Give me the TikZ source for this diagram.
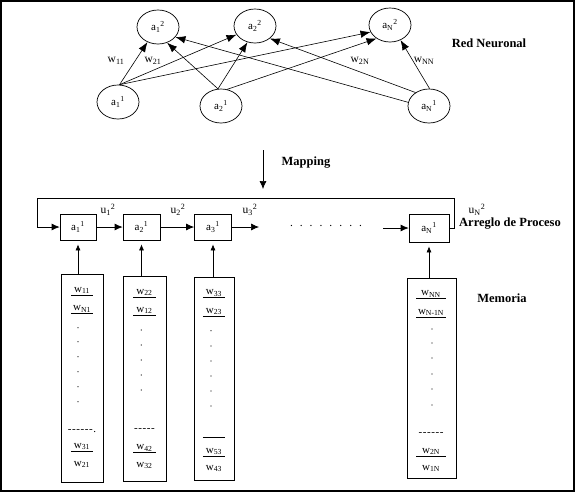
\documentclass[tikz,border=0pt]{standalone}
\usepackage{fontspec}
\setmainfont{Liberation Serif}
\usetikzlibrary{arrows.meta,positioning,shapes.geometric}

\newcommand{\neu}[3]{#1\textsubscript{#2}\textsuperscript{#3}}
\newcommand{\wt}[1]{w\textsubscript{#1}}
\newcommand{\hy}{\mbox{-}\hspace{0.6pt}}

\tikzset{
    neuron/.style={
        ellipse,
        draw,
        line width=0.7pt,
        minimum width=42pt,
        minimum height=34pt,
        inner sep=0pt,
        font=\fontsize{11}{13}\selectfont
    },
    pebox/.style={
        rectangle,
        draw,
        line width=0.7pt,
        minimum width=36pt,
        minimum height=26pt,
        inner sep=0pt,
        font=\fontsize{11}{13}\selectfont
    },
    memcol/.style={rectangle, draw, line width=0.8pt, inner sep=0pt},
    wcell/.style={minimum width=22pt, inner sep=1pt, anchor=south, font=\fontsize{11}{13}\selectfont},
    wlabel/.style={font=\fontsize{11.5}{13}\selectfont},
    tag/.style={font=\fontsize{12.5}{14}\selectfont\bfseries},
    % Arrows
    netArrow/.style={-{Latex[length=10pt,width=7.5pt]}, line width=0.6pt},
    rowArrow/.style={-{Latex[length=8pt,width=7pt]}, line width=0.7pt},
    memArrow/.style={-{Latex[length=6pt,width=5pt]}, line width=0.7pt, shorten >=4pt}
}

\begin{document}
\begin{tikzpicture}[x=1pt, y=-1pt]
\useasboundingbox (0,0) rectangle (576,493);
\draw[line width=1.5pt] (1,1) rectangle (574,491);

% Red neuronal
\node[neuron] (l2a) at (158,27) {\neu{a}{1}{2}};
\node[neuron] (l2b) at (255,26) {\neu{a}{2}{2}};
\node[neuron] (l2n) at (390,25) {\neu{a}{N}{2}};
\node[neuron] (l1a) at (118,102) {\neu{a}{1}{1}};
\node[neuron] (l1b) at (221,106) {\neu{a}{2}{1}};
\node[neuron] (l1n) at (429,106) {\neu{a}{N}{1}};

\draw[netArrow] (l1a.85) -- (l2a.235);
\draw[netArrow] (l1a.85) -- (l2b.205);
\draw[netArrow] (l1a.85) -- (l2n.200);
\draw[netArrow] (l1b.100) -- (l2a.-60);
\draw[netArrow] (l1b.100) -- (l2b.-115);
\draw[netArrow] (l1b.70) -- (l2n.225);
\draw[netArrow] (l1n.170) -- (l2a.-30);
\draw[netArrow] (l1n.135) -- (l2b.-40);
\draw[netArrow] (l1n.88) -- (l2n.-55);

\node[wlabel] (w11) at (116,61) {\wt{11}};
\node[wlabel] (w21) at (153,61) {\wt{21}};
\node[wlabel] (w2N) at (360,61) {\wt{2N}};
\node[wlabel] (wNN) at (424,61) {\wt{NN}};
\node[tag] (red) at (489,43) {Red Neuronal};

% Mapping
\coordinate (mapTop) at (263,150);
\coordinate (mapBot) at (263,189);
\draw[rowArrow] (mapTop) -- (mapBot);
\node[tag] (mapping) at (306,163) {Mapping};

% Arreglo de proceso
\node[pebox] (pa) at (78,227) {\neu{a}{1}{1}};
\node[pebox, minimum width=37pt] (pb) at (141.5,227) {\neu{a}{2}{1}};
\node[pebox, minimum width=37pt] (pc) at (213,227) {\neu{a}{3}{1}};
\node[pebox, minimum width=40pt, minimum height=28pt] (pn) at (429,228) {\neu{a}{N}{1}};
\coordinate (pcOut) at (259,227);
\coordinate (pnIn) at (383,228);
\coordinate (fbR) at (454,198);
\coordinate (fbL) at (37,198);

\draw[rowArrow] (pa) -- (pb);
\draw[rowArrow] (pb) -- (pc);
\draw[rowArrow] (pc.east) -- (pcOut);
\draw[rowArrow] (pnIn) -- (pn.west);
\draw[rowArrow] (pn.east) -| (fbR) -- (fbL) |- (pa.west);
\node[wlabel] (dots) at (326,226) {.\hspace{7pt}.\hspace{7pt}.\hspace{7pt}.\hspace{7pt}.\hspace{7pt}.\hspace{7pt}.\hspace{7pt}.};

\node[wlabel] (u1) at (108,210) {\neu{u}{1}{2}};
\node[wlabel] (u2) at (178,210) {\neu{u}{2}{2}};
\node[wlabel] (u3) at (250,210) {\neu{u}{3}{2}};
\node[wlabel] (uN) at (477,210) {\neu{u}{N}{2}};
\node[tag] (arreglo) at (510,224) {Arreglo de Proceso};

% Memoria
\node[memcol, minimum width=42pt, minimum height=208pt] (ma) at (82,378) {};
\node[memcol, minimum width=43pt, minimum height=205pt] (mb) at (144.5,378.5) {};
\node[memcol, minimum width=40pt, minimum height=203pt] (mc) at (214,378.5) {};
\node[memcol, minimum width=49pt, minimum height=200pt] (mn) at (431.5,378) {};
\node[tag] (memoria) at (502,298) {Memoria};

\draw[memArrow] (pa.south |- ma.north) -- (pa.south);
\draw[memArrow] (pb.south |- mb.north) -- (pb.south);
\draw[memArrow] (pc.south |- mc.north) -- (pc.south);
\draw[memArrow] (pn.south |- mn.north) -- (pn.south);

% columna 1
\node[wcell] (ma1) at (82,295) {\wt{11}};
\node[wcell] (ma2) at (82,313.5) {\wt{N1}};
\node[wcell] (ma3) at (82,434) {\hy\hy\hy\hy\hy\hy.};
\node[wcell] (ma4) at (82,451) {\wt{31}};
\node[wcell] (ma5) at (82,469) {\wt{21}};
\draw (ma1.south west) -- (ma1.south east);
\draw (ma2.south west) -- (ma2.south east);
\draw (ma4.south west) -- (ma4.south east);
\foreach \y in {327.7,341.7,356.7,371.7,386.7,401.7}
    \fill (78,\y) circle (0.6);

% columna 2
\node[wcell] (mb1) at (144.5,297) {\wt{22}};
\node[wcell] (mb2) at (144.5,315) {\wt{12}};
\node[wcell] (mb3) at (144.5,433) {\hy\hy\hy\hy\hy};
\node[wcell] (mb4) at (144.5,452.5) {\wt{42}};
\node[wcell] (mb5) at (144.5,470) {\wt{32}};
\draw (mb1.south west) -- (mb1.south east);
\draw (mb2.south west) -- (mb2.south east);
\draw (mb4.south west) -- (mb4.south east);
\foreach \y in {330,345,360,375,390}
    \fill (141.3,\y) circle (0.6);

% columna 3
\node[wcell] (mc1) at (214,297.5) {\wt{33}};
\node[wcell] (mc2) at (214,316) {\wt{23}};
\node[wcell] (mc3) at (214,437.5) {};
\node[wcell] (mc4) at (214,456) {\wt{53}};
\node[wcell] (mc5) at (214,473) {\wt{43}};
\draw (mc1.south west) -- (mc1.south east);
\draw (mc2.south west) -- (mc2.south east);
\draw (mc3.south west) -- (mc3.south east);
\draw (mc4.south west) -- (mc4.south east);
\foreach \y in {330.7,346,361,376,391,406}
    \fill (211,\y) circle (0.6);

% columna N
\node[wcell, minimum width=29pt] (mn1) at (431,298.5) {\wt{NN}};
\node[wcell, minimum width=29pt] (mn2) at (431,317) {\wt{N-1N}};
\node[wcell, minimum width=29pt] (mn3) at (431,437) {\hy\hy\hy\hy\hy\hy};
\node[wcell, minimum width=29pt] (mn4) at (431,456) {\wt{2N}};
\node[wcell, minimum width=29pt] (mn5) at (431,473) {\wt{1N}};
\draw (mn1.south west) -- (mn1.south east);
\draw (mn2.south west) -- (mn2.south east);
\draw (mn4.south west) -- (mn4.south east);
\foreach \y in {329,343,358,374,389,405}
    \fill (432,\y) circle (0.6);
\end{tikzpicture}
\end{document}
